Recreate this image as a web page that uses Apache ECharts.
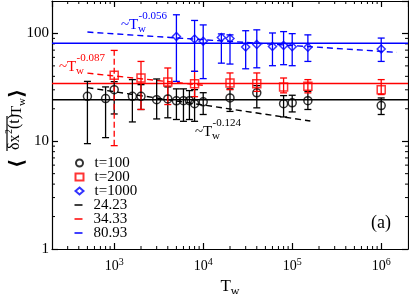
<!DOCTYPE html>
<html><head><meta charset="utf-8">
<script src="https://cdn.jsdelivr.net/npm/echarts@6/dist/echarts.min.js"></script>
<style>html,body{margin:0;padding:0;background:#fff}#c{width:409px;height:294px}</style>
</head><body><div id="c"></div>
<script>
// ---------------- data ----------------
const seriesNames = ['t=100', 't=200', 't=1000'];
const tw100  = [500, 800, 1000, 1600, 2000, 3000, 4000, 5000, 6000, 7000, 8000, 10000, 20000, 40000, 80000, 100000, 150000, 1000000];
const val100 = [26.1, 24.9, 30.1, 26.1, 26.1, 24.3, 24.7, 23.7, 23.8, 23.8, 22.3, 23.2, 25.2, 28.1, 22.3, 22.7, 23.8, 21.4];
const lo100  = [9.5, 10.8, 17.9, 15.1, 19.7, 16.1, 16.5, 15.9, 15.3, 15.9, 15.3, 17.7, 18.9, 20.4, 16.8, 18.7, 19.7, 17.7];
const hi100  = [35.9, 31.9, 35.7, 37.3, 33.5, 37.8, 31.9, 30.6, 30.6, 29.5, 30.1, 28.2, 30.6, 32.8, 26.5, 26.7, 29.0, 25.2];

const tw200  = [1000, 2000, 4000, 8000, 20000, 40000, 80000, 150000, 1000000];
const val200 = [41.0, 38.6, 35.5, 34.2, 34.7, 34.2, 31.9, 32.3, 30.1];
const lo200  = [9.1, 19.7, 21.9, 25.9, 30.1, 29.0, 28.1, 28.1, 27.1];
const hi200  = [69.6, 55.0, 47.8, 44.5, 43.0, 43.0, 38.6, 37.3, 37.3];

const tw1000  = [5000, 8000, 10000, 16000, 20000, 30000, 40000, 60000, 80000, 100000, 150000, 1000000];
const val1000 = [93.8, 88.9, 84.7, 91.8, 89.9, 75.0, 79.1, 75.8, 77.4, 75.3, 74.5, 71.7];
const lo1000  = [35.9, 44.5, 38.1, 53.0, 52.0, 47.0, 48.0, 50.2, 51.3, 50.2, 55.0, 55.0];
const hi1000  = [149, 132, 120, 99, 97, 106, 108, 101, 104, 99.6, 97, 90.6];

// plateau (horizontal) lines
const plateau = [24.23, 34.33, 80.93];
// power-law guide lines (endpoints)
const fit100Tw  = [500, 160000];   const fit100Val  = [31.4, 15.4];
const fit200Tw  = [500, 10500];    const fit200Val  = [42.8, 32.9];
const fit1000Tw = [500, 1500000];  const fit1000Val = [103, 66.7];
const fitExp = ['-0.124', '-0.087', '-0.056'];

// axes
const xRange = [200, 2000000];
const yRange = [1, 200];
const xTickExps = [3, 4, 5, 6];
const yTickLabels = ['1', '10', '100'];
const minorMult = [2, 3, 4, 5, 6, 7, 8, 9];

// --------------- chart ---------------
const F = "'Liberation Serif','DejaVu Serif',serif";
const BLACK = '#000000', RED = '#ff0000', BLUE = '#0000ff';
const isPow = v => Math.abs(Math.log10(v) - Math.round(Math.log10(v))) < 1e-6;

function minorList(lo, hi) {
  const out = [];
  for (let k = Math.floor(Math.log10(lo)); k <= Math.ceil(Math.log10(hi)); k++)
    for (const m of minorMult) { const v = m * Math.pow(10, k); if (v > lo * 1.0001 && v < hi * 0.9999) out.push(v); }
  return out;
}
const minorX = minorList(xRange[0], xRange[1]);
const minorY = minorList(yRange[0], yRange[1]);

function errBars(xs, lo, hi, color, dashFirst) {
  return {
    type: 'custom', silent: true, z: 3, clip: false,
    data: xs.map((x, i) => [x, lo[i], hi[i]]),
    encode: { x: 0, y: [1, 2] },
    renderItem: (params, api) => {
      const x = api.value(0);
      const a = api.coord([x, api.value(1)]);
      const b = api.coord([x, api.value(2)]);
      const dash = (dashFirst && params.dataIndex === 0) ? [6, 3] : null;
      return { type: 'group', children: [
        { type: 'line', shape: { x1: a[0], y1: a[1], x2: b[0], y2: b[1] }, style: { stroke: color, lineWidth: 1.3, lineDash: dash } },
        { type: 'line', shape: { x1: a[0] - 3.5, y1: a[1], x2: a[0] + 3.5, y2: a[1] }, style: { stroke: color, lineWidth: 1.3 } },
        { type: 'line', shape: { x1: b[0] - 3.5, y1: b[1], x2: b[0] + 3.5, y2: b[1] }, style: { stroke: color, lineWidth: 1.3 } }
      ]};
    }
  };
}

const minorXSeries = {
  type: 'custom', silent: true, z: 1, clip: false,
  data: minorX.map(v => [v, yRange[0]]), encode: { x: 0, y: 1 },
  renderItem: (p, api) => {
    const v = api.value(0);
    const b = api.coord([v, yRange[0]]), t = api.coord([v, yRange[1]]);
    return { type: 'group', children: [
      { type: 'line', shape: { x1: b[0], y1: b[1], x2: b[0], y2: b[1] - 3 }, style: { stroke: '#000', lineWidth: 1 } },
      { type: 'line', shape: { x1: t[0], y1: t[1], x2: t[0], y2: t[1] + 3 }, style: { stroke: '#000', lineWidth: 1 } }
    ]};
  }
};
const minorYSeries = {
  type: 'custom', silent: true, z: 1, clip: false,
  data: minorY.map(v => [xRange[0], v]), encode: { x: 0, y: 1 },
  renderItem: (p, api) => {
    const v = api.value(1);
    const l = api.coord([xRange[0], v]), r = api.coord([xRange[1], v]);
    return { type: 'group', children: [
      { type: 'line', shape: { x1: l[0], y1: l[1], x2: l[0] + 3, y2: l[1] }, style: { stroke: '#000', lineWidth: 1 } },
      { type: 'line', shape: { x1: r[0], y1: r[1], x2: r[0] - 3, y2: r[1] }, style: { stroke: '#000', lineWidth: 1 } }
    ]};
  }
};

function scatter(name, xs, ys, symbol, size, color) {
  return { type: 'scatter', name, symbol, symbolSize: size, z: 4,
    data: xs.map((x, i) => [x, ys[i]]),
    itemStyle: { color: 'rgba(255,255,255,0)', borderColor: color, borderWidth: 1.5 } };
}
function hline(v, color) {
  return { type: 'line', name: String(v), symbol: 'none', z: 2, silent: true,
    data: [[xRange[0], v], [xRange[1], v]], lineStyle: { color, width: 1.5 }, itemStyle: { color } };
}
function fitLine(xs, ys, color) {
  return { type: 'line', symbol: 'none', z: 2, silent: true,
    data: xs.map((x, i) => [x, ys[i]]), lineStyle: { color, width: 1.4, type: [6, 4] } };
}

const axisCommon = {
  axisLine: { show: true, lineStyle: { color: '#000', width: 1.2 } },
  axisTick: { show: true, inside: true, length: 6, lineStyle: { color: '#000', width: 1.2 } },
  splitLine: { show: false }
};
const legendText = { fontFamily: F, fontSize: 15, color: '#000', lineHeight: 14, padding: [0, 0, 0, 6] };

const option = {
  animation: false,
  backgroundColor: '#fff',
  grid: { left: 52, right: 1, top: 1, bottom: 45, outerBoundsMode: 'none', containLabel: false },
  xAxis: [
    Object.assign({ type: 'log', logBase: 10, min: xRange[0], max: xRange[1], position: 'bottom',
      axisLabel: { margin: 8, showMinLabel: false, showMaxLabel: false,
        formatter: v => { const e = Math.round(Math.log10(v)); return (isPow(v) && xTickExps.includes(e)) ? '{b|10}{s|' + e + '}' : ''; },
        rich: { b: { fontFamily: F, fontSize: 14, lineHeight: 14, padding: [5, 0, 0, 0], color: '#000' },
                s: { fontFamily: F, fontSize: 10, lineHeight: 10, verticalAlign: 'top', color: '#000' } } },
      name: '{t|T}{w|w}', nameLocation: 'middle', nameGap: 22,
      nameTextStyle: { rich: { t: { fontFamily: F, fontSize: 17, lineHeight: 17, padding: [0, 0, 4, 0], color: '#000' },
                                w: { fontFamily: F, fontSize: 12, lineHeight: 12, verticalAlign: 'bottom', color: '#000' } } }
    }, axisCommon),
    Object.assign({ type: 'log', logBase: 10, min: xRange[0], max: xRange[1], position: 'top', axisLabel: { show: false } }, axisCommon)
  ],
  yAxis: [
    Object.assign({ type: 'log', logBase: 10, min: yRange[0], max: yRange[1], position: 'left',
      axisLabel: { margin: 3, showMaxLabel: false, fontFamily: F, fontSize: 15, color: '#000',
        formatter: v => { const s = String(Math.round(v)); return (isPow(v) && yTickLabels.includes(s)) ? s : ''; } }
    }, axisCommon),
    Object.assign({ type: 'log', logBase: 10, min: yRange[0], max: yRange[1], position: 'right', axisLabel: { show: false } }, axisCommon)
  ],
  legend: [
    { orient: 'vertical', left: 74.5, top: 155.5, padding: 0, itemWidth: 8, itemHeight: 7, itemGap: -1, selectedMode: false,
      textStyle: legendText,
      data: [{ name: seriesNames[0], icon: 'circle' }, { name: seriesNames[1], icon: 'rect' }, { name: seriesNames[2], icon: 'diamond' }] },
    { orient: 'vertical', left: 74.5, top: 197.5, padding: 0, itemWidth: 8, itemHeight: 1.5, itemGap: -1, selectedMode: false,
      textStyle: legendText,
      data: plateau.map(v => ({ name: String(v), icon: 'rect' })) }
  ],
  series: [
    minorXSeries, minorYSeries,
    hline(plateau[0], BLACK), hline(plateau[1], RED), hline(plateau[2], BLUE),
    fitLine(fit100Tw, fit100Val, BLACK), fitLine(fit200Tw, fit200Val, RED), fitLine(fit1000Tw, fit1000Val, BLUE),
    errBars(tw100, lo100, hi100, BLACK, false),
    errBars(tw200, lo200, hi200, RED, true),
    errBars(tw1000, lo1000, hi1000, BLUE, false),
    scatter(seriesNames[0], tw100, val100, 'circle', 8, BLACK),
    scatter(seriesNames[1], tw200, val200, 'rect', 8, RED),
    scatter(seriesNames[2], tw1000, val1000, 'diamond', 8, BLUE)
  ],
  graphic: []
};

function annot(x, yMid, color, exp) {
  return [
    { type: 'text', x: x, y: yMid, style: { text: '~T', font: '15px ' + F, fill: color, textAlign: 'left', textVerticalAlign: 'middle' } },
    { type: 'text', x: x + 17, y: yMid + 4, style: { text: 'w', font: '11px ' + F, fill: color, textAlign: 'left', textVerticalAlign: 'middle' } },
    { type: 'text', x: x + 17.5, y: yMid - 9, style: { text: exp, font: '11px ' + F, fill: color, textAlign: 'left', textVerticalAlign: 'middle' } }
  ];
}
option.graphic = [].concat(
  annot(121, 25.5, BLUE, fitExp[2]),
  annot(59, 67, RED, fitExp[1]),
  annot(195, 132.5, BLACK, fitExp[0]),
  [{ type: 'text', x: 371, y: 223, style: { text: '(a)', font: '18px ' + F, fill: '#000', textAlign: 'left', textVerticalAlign: 'middle' } },
   { type: 'group', x: 20, y: 168, rotation: Math.PI / 2, children: [
      { type: 'text', x: 0, y: -2.5, style: { text: '⟨', font: 'bold 20px "DejaVu Sans"', fill: '#000', textAlign: 'left', textVerticalAlign: 'middle' } },
      { type: 'text', x: 18, y: -5.4, style: { text: 'δx', font: '16px ' + F, fill: '#000', textAlign: 'left', textVerticalAlign: 'middle' } },
      { type: 'text', x: 34, y: -11, style: { text: '2', font: '10px ' + F, fill: '#000', textAlign: 'left', textVerticalAlign: 'middle' } },
      { type: 'text', x: 39, y: -5.4, style: { text: '(t)', font: '16px ' + F, fill: '#000', textAlign: 'left', textVerticalAlign: 'middle' } },
      { type: 'line', shape: { x1: 17, y1: -13, x2: 52, y2: -13 }, style: { stroke: '#000', lineWidth: 1.2 } },
      { type: 'text', x: 53, y: -3, style: { text: 'T', font: '15px ' + F, fill: '#000', textAlign: 'left', textVerticalAlign: 'middle' } },
      { type: 'text', x: 62, y: 2, style: { text: 'w', font: '11px ' + F, fill: '#000', textAlign: 'left', textVerticalAlign: 'middle' } },
      { type: 'text', x: 70, y: -2.5, style: { text: '⟩', font: 'bold 20px "DejaVu Sans"', fill: '#000', textAlign: 'left', textVerticalAlign: 'middle' } }
   ]}]
);

const chart = echarts.init(document.getElementById('c'), null, { renderer: 'canvas' });
chart.setOption(option);
</script>
</body></html>
